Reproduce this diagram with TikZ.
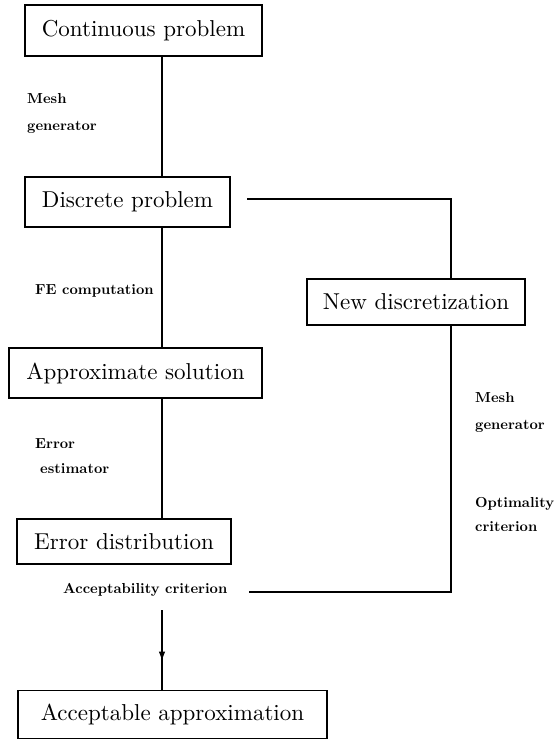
\documentclass[tikz,border=0pt]{standalone}
\usepackage{fontspec}
\setmainfont{lmroman10-regular.otf}[BoldFont=lmroman10-bold.otf]
\usetikzlibrary{decorations.markings,arrows.meta}
\begin{document}
\begin{tikzpicture}[x=1pt,y=-1pt,
  box/.style={draw,line width=1.2pt,inner sep=0pt,font=\fontsize{23}{27}\selectfont},
  lab/.style={anchor=base west,inner sep=0pt,font=\fontsize{14.5}{17}\selectfont\bfseries},
  conn/.style={line width=1.2pt}]
\useasboundingbox (0,0) rectangle (558,740);
\node[box,minimum width=237pt,minimum height=51pt] (cont) at (143.5,30.5) {Continuous problem};
\node[box,minimum width=205pt,minimum height=50pt] (disc) at (127.5,202) {Discrete problem};
\node[box,minimum width=218pt,minimum height=46pt] (newd) at (416,302) {New discretization};
\node[box,minimum width=253pt,minimum height=50pt] (appr) at (135.5,373) {Approximate solution};
\node[box,minimum width=214pt,minimum height=45pt] (errd) at (124,541.5) {Error distribution};
\node[box,minimum width=309pt,minimum height=48pt] (acc) at (172.5,714.5) {Acceptable approximation};

\coordinate (cx) at (162,0);
\coordinate (rx) at (451,0);
\coordinate (dstart) at (247,199);
\coordinate (astart) at (249,592);
\coordinate (accstart) at (162,610);

\draw[conn] (cont.south -| cx) -- (disc.north -| cx);
\draw[conn] (disc.south -| cx) -- (appr.north -| cx);
\draw[conn] (appr.south -| cx) -- (errd.north -| cx);
\draw[conn] (dstart) -| (newd.north -| rx);
\draw[conn] (astart) -| (newd.south -| rx);
\draw[conn,postaction={decorate},decoration={markings,mark=at position 0.62 with {\arrow{Triangle[length=8pt,width=6pt]}}}] (accstart) -- (acc.north -| cx);

\node[lab] (l1) at (27,103) {Mesh};
\node[lab] (l2) at (27,130) {generator};
\node[lab] (l3) at (35,294) {FE computation};
\node[lab] (l4) at (35,448) {Error};
\node[lab] (l5) at (40,473) {estimator};
\node[lab] (l6) at (63,593) {Acceptability criterion};
\node[lab] (r1) at (475,402) {Mesh};
\node[lab] (r2) at (475,429) {generator};
\node[lab] (r3) at (475,507) {Optimality};
\node[lab] (r4) at (475,531) {criterion};
\end{tikzpicture}
\end{document}
